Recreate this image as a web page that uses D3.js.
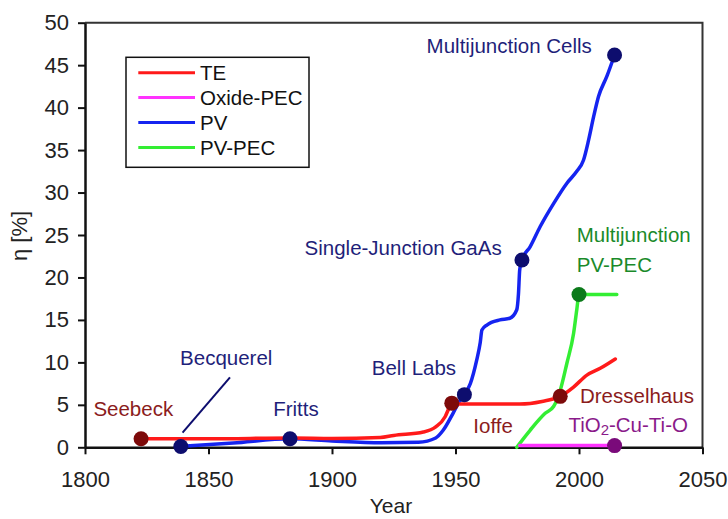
<!DOCTYPE html>
<html><head><meta charset="utf-8">
<script src="https://cdn.jsdelivr.net/npm/d3@7"></script>
<style>
body{margin:0;background:#fff;}
svg{display:block;font-family:Arial,"Liberation Sans",sans-serif;}
</style></head>
<body><svg id="c" width="728" height="519"></svg>
<script>
// ---- data ----
const xTicks = [1800,1850,1900,1950,2000,2050];
const yTicks = [0,5,10,15,20,25,30,35,40,45,50];
const seriesNames = ["TE","Oxide-PEC","PV","PV-PEC"];
const teCurve = [[1822.7,1.0],[1850,1.0],[1884,1.1],[1900,1.05],[1919.5,1.15],[1925,1.4],[1937,1.8],[1942,2.4],[1945.8,3.6],[1947.5,4.7],[1948.5,5.2],[1950,5.1],[1955,5.1],[1976,5.1],[1985,5.4],[1992.4,6.0],[1997.8,7.1],[2003.2,8.5],[2008.6,9.3],[2014.7,10.4]];
const oxideCurve = [[1976,0.2],[2014.4,0.2]];
const pvCurve = [[1838.8,0.1],[1860,0.5],[1883,1.0],[1900,0.75],[1920,0.55],[1935,0.6],[1942,1.1],[1945,2.0],[1949,4.0],[1952,5.6],[1953.6,6.2],[1956,7.5],[1958.6,10.3],[1960,12.3],[1960.7,13.8],[1962.7,14.4],[1968,15.0],[1972,15.2],[1974.8,16.2],[1975.5,18.1],[1976,20.9],[1976.9,22.06],[1980.2,23.6],[1984.3,26.0],[1989.7,28.7],[1995.1,31.1],[1999.1,32.5],[2001.8,33.8],[2003.9,36.2],[2005.9,38.9],[2007.9,41.3],[2011.3,43.7],[2014.4,46.2]];
const pvpecCurve = [[1974.8,0],[1980.2,2.0],[1986.3,4.0],[1989.7,4.8],[1992.4,6.7],[1995.1,9.9],[1997.8,13.4],[1999.1,16.2],[2000,18.0],[2015.3,18.0]];
const teMarkers = [[1822.7,1.0],[1948.5,5.2],[1992.4,6.0]];
const pvMarkers = [[1838.8,0.1],[1883,1.0],[1953.6,6.2],[1976.9,22.06],[2014.4,46.2]];
const pvpecMarkers = [[2000,18.0]];
const oxideMarkers = [[2014.4,0.2]];
// labels: [text, year, value, anchor, group]
const labels = [
  ["Multijunction Cells",1938.3,46.4,"start","pv"],
  ["Single-Junction GaAs",1968.7,22.65,"end","pv"],
  ["Multijunction",1999.1,24.2,"start","pvpec"],
  ["PV-PEC",1999.1,20.7,"start","pvpec"],
  ["Bell Labs",1916.1,8.5,"start","pv"],
  ["Ioffe",1957.2,1.65,"start","te"],
  ["Dresselhaus",2000.4,5.18,"start","te"],
  ["Seebeck",1803.4,3.72,"start","te"],
  ["Becquerel",1838.5,9.69,"start","pv"],
  ["Fritts",1876.2,3.69,"start","pv"]
];
const becquerelLeader = [[1839.5,1.72],[1858.7,8.24]];
const tioLabel = {year:1995.7, value:1.84};

// ---- styles ----
const lineColor = {te:"#ff1a1a", oxide:"#ff33ff", pv:"#1524f0", pvpec:"#33ee33"};
const dotColor = {te:"#7d0a0a", oxide:"#7a0a7a", pv:"#0d0d6e", pvpec:"#0b7a1a"};
const textColor = {te:"#8b1c1c", oxide:"#8a1a8a", pv:"#1f1f7a", pvpec:"#1a8a2a"};

const svg = d3.select("#c");
const m = {l:85, t:22.7, r:25.5, b:71.7};
const W = 728, H = 519;
const x = d3.scaleLinear().domain([1800,2050]).range([m.l, W-m.r]);
const y = d3.scaleLinear().domain([0,50]).range([H-m.b, m.t]);

// frame top/right
svg.append("path").attr("d",`M${x(1800)},${y(50)}H${x(2050)}V${y(0)}`)
  .attr("fill","none").attr("stroke","#333").attr("stroke-width",2);

const xAxis = svg.append("g").attr("transform",`translate(0,${y(0)})`)
  .call(d3.axisBottom(x).tickValues(xTicks).tickFormat(d3.format("d")).tickSize(7).tickSizeOuter(0));
const yAxis = svg.append("g").attr("transform",`translate(${x(1800)},0)`)
  .call(d3.axisLeft(y).tickValues(yTicks).tickSize(7).tickSizeOuter(0));
[xAxis,yAxis].forEach(g=>{
  g.select(".domain").attr("stroke","#111").attr("stroke-width",2.5);
  g.selectAll(".tick line").attr("stroke","#111").attr("stroke-width",2);
  g.selectAll(".tick text").attr("fill","#222").style("font-size","22px").style("font-family","Arial,'Liberation Sans',sans-serif");
});
xAxis.selectAll(".tick text").attr("dy","0").attr("y",39.5);
yAxis.selectAll(".tick text").attr("x",-16);

// axis titles
svg.append("text").attr("x",391).attr("y",513).attr("text-anchor","middle")
  .style("font-size","21px").attr("fill","#222").text("Year");
svg.append("text").attr("transform",`translate(27,${236}) rotate(-90)`).attr("text-anchor","middle")
  .style("font-size","22px").attr("fill","#222").text("η [%]");

// lines
const line = d3.line().x(d=>x(d[0])).y(d=>y(d[1])).curve(d3.curveMonotoneX);
const drawLine = (data,key)=>svg.append("path").datum(data).attr("d",line)
  .attr("fill","none").attr("stroke",lineColor[key]).attr("stroke-width",3.5)
  .attr("stroke-linejoin","round").attr("stroke-linecap","round");
drawLine(pvCurve,"pv");
drawLine(teCurve,"te");
drawLine(pvpecCurve,"pvpec");
drawLine(oxideCurve,"oxide");

// leader
svg.append("line").attr("x1",x(becquerelLeader[0][0])).attr("y1",y(becquerelLeader[0][1]))
  .attr("x2",x(becquerelLeader[1][0])).attr("y2",y(becquerelLeader[1][1]))
  .attr("stroke",dotColor.pv).attr("stroke-width",2);

// markers
const drawDots = (data,key)=>svg.append("g").selectAll("circle").data(data).join("circle")
  .attr("cx",d=>x(d[0])).attr("cy",d=>y(d[1])).attr("r",7.5).attr("fill",dotColor[key]);
drawDots(teMarkers,"te");
drawDots(pvMarkers,"pv");
drawDots(pvpecMarkers,"pvpec");
drawDots(oxideMarkers,"oxide");

// labels
svg.append("g").selectAll("text").data(labels).join("text")
  .attr("x",d=>x(d[1])).attr("y",d=>y(d[2])).attr("text-anchor",d=>d[3])
  .attr("fill",d=>textColor[d[4]]).style("font-size","20.5px").text(d=>d[0]);
const tio = svg.append("text").attr("x",x(tioLabel.year)).attr("y",y(tioLabel.value))
  .attr("fill",textColor.oxide).style("font-size","20.5px");
tio.append("tspan").text("TiO");
tio.append("tspan").attr("dy",3).style("font-size","15px").text("2");
tio.append("tspan").attr("dy",-3).text("-Cu-Ti-O");

// legend
const lg = svg.append("g");
lg.append("rect").attr("x",126).attr("y",57.3).attr("width",183).attr("height",110)
  .attr("fill","#fff").attr("stroke","#111").attr("stroke-width",1.5);
const legKeys = ["te","oxide","pv","pvpec"];
seriesNames.forEach((n,i)=>{
  const yy = 72.7 + i*24.9;
  lg.append("line").attr("x1",138.3).attr("x2",195).attr("y1",yy).attr("y2",yy)
    .attr("stroke",lineColor[legKeys[i]]).attr("stroke-width",3);
  lg.append("text").attr("x",200).attr("y",yy+7.3).style("font-size","20.5px").attr("fill","#111").text(n);
});
</script></body></html>
